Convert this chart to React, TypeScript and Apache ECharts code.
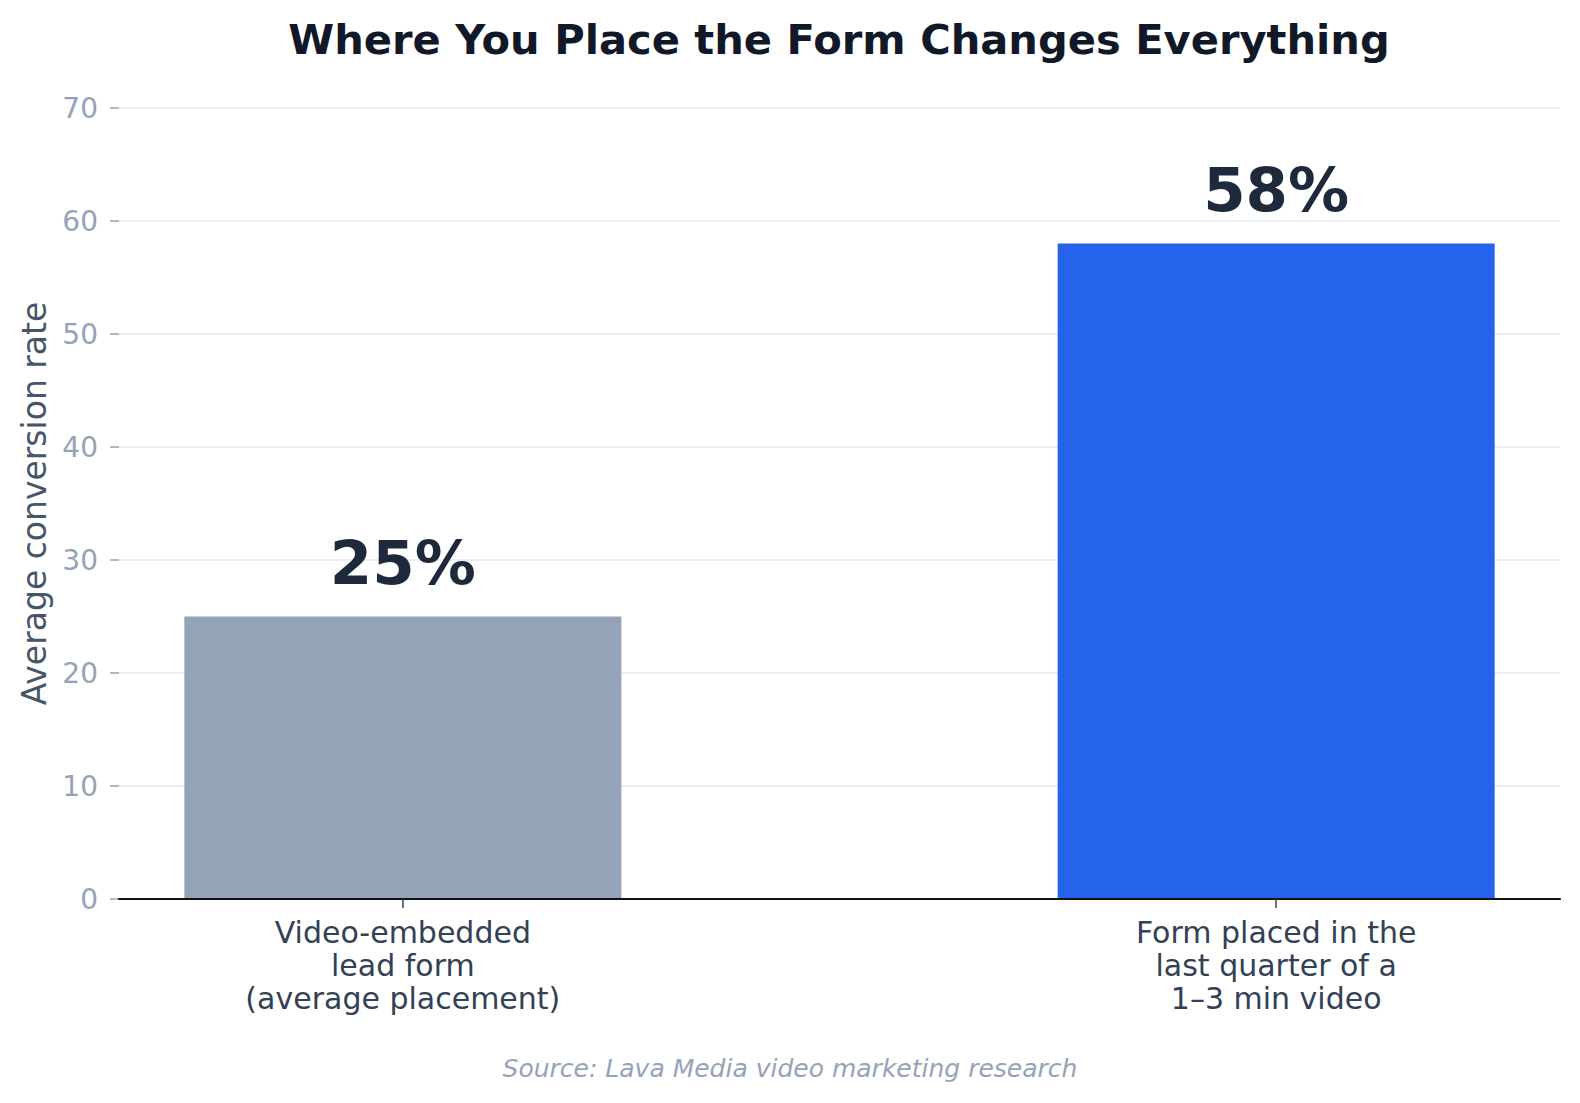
import React, { useEffect, useRef } from "react";
import * as echarts from "echarts";

const title = "Where You Place the Form Changes Everything";
const source = "Source: Lava Media video marketing research";
const yAxisName = "Average conversion rate";
const categories = [
  "Video-embedded\nlead form\n(average placement)",
  "Form placed in the\nlast quarter of a\n1–3 min video",
];
const positions = [0, 1];
const values = [25, 58];
const yTicks = { min: 0, max: 70, interval: 10 };

const barColors = ["#94a3b8", "#2563eb"];
const FONT = "'DejaVu Sans', sans-serif";

export default function App() {
  const ref = useRef<HTMLDivElement>(null);
  useEffect(() => {
    if (!ref.current) return;
    const chart = echarts.init(ref.current, undefined, { renderer: "svg" });
    chart.setOption({
      animation: false,
      backgroundColor: "#ffffff",
      textStyle: { fontFamily: FONT },
      grid: { left: 119, right: 20, top: 108, bottom: 204, containLabel: false },
      graphic: [
        {
          type: "text",
          x: 839,
          y: 39,
          style: {
            text: title,
            font: `bold 41.6px ${FONT}`,
            fill: "#111827",
            textAlign: "center",
            textVerticalAlign: "middle",
          },
        },
        {
          type: "text",
          x: 790,
          y: 1068,
          style: {
            text: source,
            font: `italic 25px ${FONT}`,
            fill: "#94a3b8",
            textAlign: "center",
            textVerticalAlign: "middle",
          },
        },
      ],
      xAxis: {
        type: "value",
        min: -0.325,
        max: 1.325,
        z: 5,
        splitLine: { show: false },
        axisLine: { show: true, onZero: false, lineStyle: { color: "#111111", width: 2 } },
        axisTick: {
          show: true,
          customValues: positions,
          length: 9,
          lineStyle: { color: "#334155", width: 1.5 },
        },
        axisLabel: {
          customValues: positions,
          formatter: (v: number) => categories[Math.round(v)] ?? "",
          fontSize: 30,
          lineHeight: 33,
          color: "#334155",
          margin: 17,
          fontFamily: FONT,
        },
      },
      yAxis: {
        type: "value",
        min: yTicks.min,
        max: yTicks.max,
        interval: yTicks.interval,
        name: yAxisName,
        nameLocation: "middle",
        nameRotate: 90,
        nameGap: 64,
        nameTextStyle: { fontSize: 33, color: "#475569", fontFamily: FONT },
        axisLine: { show: false, onZero: false },
        axisTick: { show: true, length: 9, lineStyle: { color: "#94a3b8", width: 1.5 } },
        axisLabel: { fontSize: 28, color: "#94a3b8", margin: 21, fontFamily: FONT },
        splitLine: { show: true, lineStyle: { color: "#e2e8f0", width: 1.5 } },
      },
      series: [
        {
          type: "bar",
          barWidth: 437,
          data: values.map((v, i) => ({
            value: [positions[i], v],
            itemStyle: { color: barColors[i] },
          })),
          label: {
            show: true,
            position: "top",
            distance: 24,
            formatter: (p: any) => `${p.value[1]}%`,
            fontSize: 61,
            fontWeight: "bold",
            color: "#1e293b",
            fontFamily: FONT,
          },
        },
      ],
    });
    return () => chart.dispose();
  }, []);
  return (
    <div
      ref={ref}
      style={{ position: "fixed", left: 0, top: 0, width: 1580, height: 1103 }}
    />
  );
}
